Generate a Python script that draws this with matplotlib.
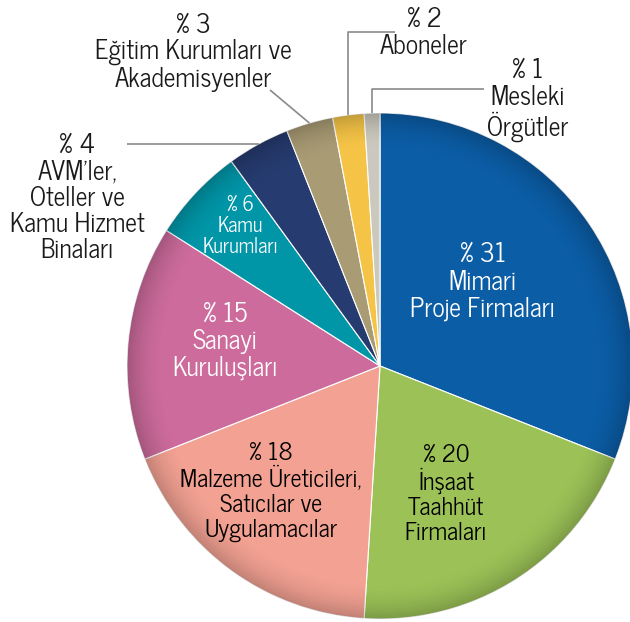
import matplotlib
matplotlib.use("Agg")
import matplotlib.pyplot as plt
from matplotlib.patches import Circle
import numpy as np

plt.rcParams['font.family'] = ['News Cycle', 'DejaVu Sans']

# data: clockwise from 12 o'clock
shares = [31, 20, 18, 15, 6, 4, 3, 2, 1]
labels = [
    "% 31\nMimari\nProje Firmaları",
    "% 20\nİnşaat\nTaahhüt\nFirmaları",
    "% 18\nMalzeme Üreticileri,\nSatıcılar ve\nUygulamacılar",
    "% 15\nSanayi\nKuruluşları",
    "% 6\nKamu\nKurumları",
    "% 4\nAVM’ler,\nOteller ve\nKamu Hizmet\nBinaları",
    "% 3\nEğitim Kurumları ve\nAkademisyenler",
    "% 2\nAboneler",
    "% 1\nMesleki\nÖrgütler",
]
colors = ['#0b5da6', '#9cc257', '#f2a192', '#cc6b9c', '#0096a8',
          '#263b6f', '#a99b74', '#f5c447', '#cbc9bd']

W, H = 630, 622
CX, CY, R = 380, 366, 253


def px(x, y):
    # pixel position -> data units (pie centre = 0,0, radius = 1)
    return (x - CX) / R, (CY - y) / R


fig = plt.figure(figsize=(W / 100, H / 100), dpi=100)
ax = fig.add_axes([0, 0, 1, 1])

wedges, _ = ax.pie(shares, colors=colors, startangle=90, counterclock=False,
                   radius=1, center=(0, 0), frame=True,
                   wedgeprops=dict(edgecolor='white', linewidth=0.8))
ax.set_xlim(-CX / R, (W - CX) / R)
ax.set_ylim((CY - H) / R, CY / R)
ax.set_aspect('equal')
ax.axis('off')

# soft rim shading, clipped to the disc
g = np.linspace(-1, 1, 400)
gx, gy = np.meshgrid(g, g)
rr = np.sqrt(gx ** 2 + gy ** 2)
shade = np.zeros((400, 400, 4))
shade[..., 3] = 0.2 * np.clip((rr - 0.85) / 0.15, 0, 1) ** 2
img = ax.imshow(shade, extent=(-1, 1, -1, 1), origin='lower', zorder=2,
                interpolation='bilinear')
disc = Circle((0, 0), 1, transform=ax.transData)
img.set_clip_path(disc)

# labels inside the pie
inner = [
    (0, (483, 282), 'white', 18.5, 1.12),
    (1, (446, 494), 'black', 17.5, 1.1),
    (2, (271, 492), 'black', 17.5, 1.1),
    (3, (225, 341), 'white', 18.5, 1.1),
    (4, (240, 226), 'white', 14.5, 1.08),
]
for i, (x, y), c, fs, ls in inner:
    ax.text(*px(x, y), labels[i], color=c, fontsize=fs, ha='center',
            va='center', linespacing=ls, zorder=3)

# labels outside, with leader lines
outer = [
    (5, (77, 198)),
    (6, (193, 52)),
    (7, (424, 33)),
    (8, (528, 100)),
]
for i, (x, y) in outer:
    ax.text(*px(x, y), labels[i], color='#1a1a1a', fontsize=18.5,
            ha='center', va='center', linespacing=1.07)

line_kw = dict(color='#8a8a8a', linewidth=1.2, solid_capstyle='butt')


def edge_point(i):
    w = wedges[i]
    a = np.deg2rad((w.theta1 + w.theta2) / 2)
    return np.cos(a), np.sin(a)


# AVM: horizontal line to pie edge
yl = px(0, 144)[1]
ax.plot([px(127, 0)[0], -np.sqrt(1 - yl ** 2)], [yl, yl], **line_kw)
# Egitim: diagonal
ex, ey = edge_point(6)
x0, y0 = px(270, 90)
ax.plot([x0, ex], [y0, ey], **line_kw)
# Aboneler: elbow
ex, ey = edge_point(7)
xa, ya = px(395, 32)
ax.plot([xa, ex, ex], [ya, ya, ey], **line_kw)
# Mesleki: elbow
ex, ey = edge_point(8)
xa, ya = px(484, 89)
ax.plot([xa, ex, ex], [ya, ya, ey], **line_kw)

fig.savefig('out.png', dpi=100)
